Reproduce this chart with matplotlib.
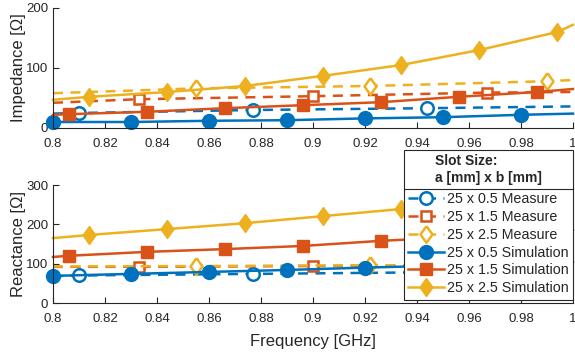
import matplotlib
matplotlib.use("Agg")
import matplotlib.pyplot as plt
from matplotlib.lines import Line2D
import numpy as np

plt.rcParams['font.family'] = ['Liberation Sans', 'DejaVu Sans']

# frequency points [GHz]; first/last entries are line ends without markers
f_sim_05 = [0.80, 0.83, 0.86, 0.89, 0.92, 0.95, 0.98, 1.00]
f_sim_15 = [0.80, 0.806, 0.836, 0.866, 0.896, 0.926, 0.956, 0.986, 1.00]
f_sim_25 = [0.80, 0.814, 0.844, 0.874, 0.904, 0.934, 0.964, 0.994, 1.00]
f_meas_05 = [0.80, 0.810, 0.877, 0.944, 1.00]
f_meas_15 = [0.80, 0.833, 0.900, 0.967, 1.00]
f_meas_25 = [0.80, 0.855, 0.922, 0.990, 1.00]

# impedance [ohm]
z_sim_05 = [10, 10, 12, 13, 16, 18, 22, 24]
z_sim_15 = [22, 23, 27, 33, 38, 43, 52, 60, 65]
z_sim_25 = [47, 52, 60, 70, 87, 105, 130, 160, 172]
z_meas_05 = [24, 25, 30, 33, 36]
z_meas_15 = [42, 48, 53, 59, 60]
z_meas_25 = [58, 66, 70, 78, 80]

# reactance [ohm]
x_sim_05 = [69, 74, 79, 84, 90, 95, 100, 104]
x_sim_15 = [117, 120, 130, 137, 145, 158, 168, 180, 186]
x_sim_25 = [165, 173, 188, 203, 221, 239, 260, 282, 292]
x_meas_05 = [68, 70, 74, 78, 80]
x_meas_15 = [92, 92, 94, 95, 96]
x_meas_25 = [93, 94, 96, 97, 98]

labels = ['25 x 0.5 Measure', '25 x 1.5 Measure', '25 x 2.5 Measure',
          '25 x 0.5 Simulation', '25 x 1.5 Simulation', '25 x 2.5 Simulation']

blue, orange, yellow = '#0072BD', '#D95319', '#EDB120'
diamond = [(0, 1), (0.72, 0), (0, -1), (-0.72, 0), (0, 1)]
grey = '#262626'

fig = plt.figure(figsize=(5.75, 3.56), dpi=100)
ax1 = fig.add_axes([53/575, 1 - 128/356, 520/575, 120/356])
ax2 = fig.add_axes([53/575, 1 - 303/356, 520/575, 118/356])


def draw(ax, meas, sim):
    handles = []
    for (f, v, c, m, ms) in zip([f_meas_05, f_meas_15, f_meas_25], meas,
                                [blue, orange, yellow], ['o', 's', diamond], [9, 7.5, 12]):
        h, = ax.plot(f, v, '--', color=c, lw=1.8, marker=m, ms=ms, mfc='white', mec=c,
                     mew=1.8, markevery=slice(1, -1), dashes=(4, 3), clip_on=False)
        handles.append(h)
    marks = [slice(0, -1), slice(1, -1), slice(1, -1)]
    for (f, v, c, m, ms, me) in zip([f_sim_05, f_sim_15, f_sim_25], sim,
                                    [blue, orange, yellow], ['o', 's', diamond],
                                    [10, 8.5, 13], marks):
        h, = ax.plot(f, v, '-', color=c, lw=1.8, marker=m, ms=ms, mfc=c, mec=c,
                     markevery=me, clip_on=False)
        handles.append(h)
    ax.set_xlim(0.8, 1.0)
    ax.set_xticks(np.arange(0.8, 1.001, 0.02))
    ax.set_xticklabels(['0.8', '0.82', '0.84', '0.86', '0.88', '0.9', '0.92',
                        '0.94', '0.96', '0.98', '1'])
    for s in ['top', 'right']:
        ax.spines[s].set_visible(False)
    for s in ['left', 'bottom']:
        ax.spines[s].set_color(grey)
        ax.spines[s].set_linewidth(0.8)
    ax.tick_params(direction='in', labelsize=9.5, colors=grey, length=4, width=0.8)
    ax.tick_params(axis='x', pad=7)
    return handles


handles = draw(ax1, [z_meas_05, z_meas_15, z_meas_25], [z_sim_05, z_sim_15, z_sim_25])
draw(ax2, [x_meas_05, x_meas_15, x_meas_25], [x_sim_05, x_sim_15, x_sim_25])

ax1.set_ylim(0, 200)
ax1.set_yticks([0, 100, 200])
ax1.set_ylabel('Impedance [Ω]', fontsize=12, color=grey, labelpad=0)
ax2.set_ylim(0, 300)
ax2.set_yticks([0, 100, 200, 300])
ax2.set_ylabel('Reactance [Ω]', fontsize=12, color=grey, labelpad=0)
ax2.set_xlabel('Frequency [GHz]', fontsize=12, color=grey, labelpad=7)

leg = fig.legend(handles, labels, loc='upper left',
                 bbox_to_anchor=(404/575, 1 - 150/356), borderaxespad=0,
                 title='Slot Size:\na [mm] x b [mm]',
                 title_fontproperties={'weight': 'bold', 'size': 10},
                 fontsize=10.3, handlelength=2.5, handletextpad=0.2,
                 labelspacing=0.27, borderpad=0.3, fancybox=False,
                 framealpha=1, edgecolor=grey)
leg.get_frame().set_linewidth(0.8)
leg._legend_box.sep = 5
for t in leg.get_texts():
    t.set_color(grey)
leg.get_title().set_color(grey)
leg.get_title().set_linespacing(1.25)
leg.set_zorder(10)

# horizontal rule between the legend title and its entries
fig.canvas.draw()
r = fig.canvas.get_renderer()
tb = leg.get_title().get_window_extent(r)
eb = leg.get_texts()[0].get_window_extent(r)
fb = leg.get_frame().get_window_extent(r)
ysep = (tb.y0 + eb.y1) / 2 / fig.bbox.height
sep = Line2D([fb.x0 / fig.bbox.width, fb.x1 / fig.bbox.width], [ysep, ysep],
             transform=fig.transFigure, color=grey, lw=0.8, zorder=11)
fig.add_artist(sep)

fig.savefig('out.png', dpi=100)
